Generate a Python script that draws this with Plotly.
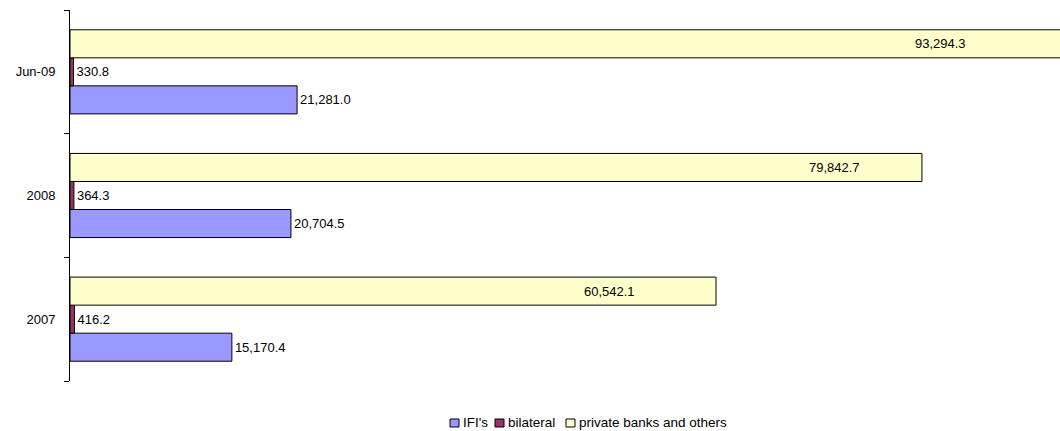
import plotly.graph_objects as go

categories = ["2007", "2008", "Jun-09"]
ifis = [15170.4, 20704.5, 21281.0]
bilateral = [416.2, 364.3, 330.8]
private = [60542.1, 79842.7, 93294.3]
series_names = ["IFI's", "bilateral", "private banks and others"]
series_colors = ["#9999FF", "#993366", "#FFFFCC"]

# label x positions (data units) for the private-bank labels, as placed in the original
private_label_x = [50600, 71600, 81540]

def fmt(v):
    return f"{v:,.1f}"

font = dict(family="Liberation Sans, Arial, sans-serif", size=13, color="black")
legend_font = dict(family="Liberation Sans, Arial, sans-serif", size=13.5, color="black")
line = dict(color="black", width=1)

fig = go.Figure()
fig.add_trace(go.Bar(y=categories, x=ifis, name=series_names[0], orientation="h",
                     marker=dict(color=series_colors[0], line=line),
                     text=[fmt(v) for v in ifis], textposition="outside",
                     textfont=font, cliponaxis=False))
fig.add_trace(go.Bar(y=categories, x=bilateral, name=series_names[1], orientation="h",
                     marker=dict(color=series_colors[1], line=line),
                     text=[fmt(v) for v in bilateral], textposition="outside",
                     textfont=font, cliponaxis=False))
fig.add_trace(go.Bar(y=categories, x=private, name=series_names[2], orientation="h",
                     marker=dict(color=series_colors[2], line=line)))

for i, (v, lx) in enumerate(zip(private, private_label_x)):
    fig.add_annotation(x=lx, y=i, xref="x", yref="y", text=fmt(v), showarrow=False,
                       font=font, yshift=28, xanchor="center", yanchor="middle")

# custom compact legend (Excel style): small square + text
L, R, T, B = 70, 1060, 10, 381
def px(p):
    return (p - L) / (R - L)
def py(p):
    return (B - p) / (B - T)
legend_sq_x = [450, 495, 566]
for name, col, sx in zip(series_names, series_colors, legend_sq_x):
    fig.add_shape(type="rect", xref="paper", yref="paper",
                  x0=px(sx), x1=px(sx + 9), y0=py(427), y1=py(419),
                  fillcolor=col, line=dict(color="black", width=1))
    fig.add_annotation(xref="paper", yref="paper", x=px(sx + 11), y=py(422),
                       text=name, showarrow=False, font=legend_font,
                       xanchor="left", yanchor="middle")

fig.update_layout(
    width=1060, height=431,
    margin=dict(l=L, r=1060 - R, t=T, b=431 - B, autoexpand=False),
    paper_bgcolor="white", plot_bgcolor="white",
    barmode="group", bargap=0.32, bargroupgap=0,
    font=font,
    showlegend=False,
    hovermode=False,
    xaxis=dict(range=[0, 92780], showticklabels=False, ticks="", showline=False,
               showgrid=False, zeroline=False, automargin=False, fixedrange=True),
    yaxis=dict(type="category", showline=True, linecolor="black", linewidth=1,
               ticks="outside", ticklen=5, tickcolor="black", tickson="boundaries",
               showgrid=False, tickfont=font, automargin=False, ticklabelstandoff=11,
               fixedrange=True),
)

fig.write_html("out.html", config={"displayModeBar": False},
               post_script="document.body.style.margin='0';document.body.style.overflow='hidden';")
